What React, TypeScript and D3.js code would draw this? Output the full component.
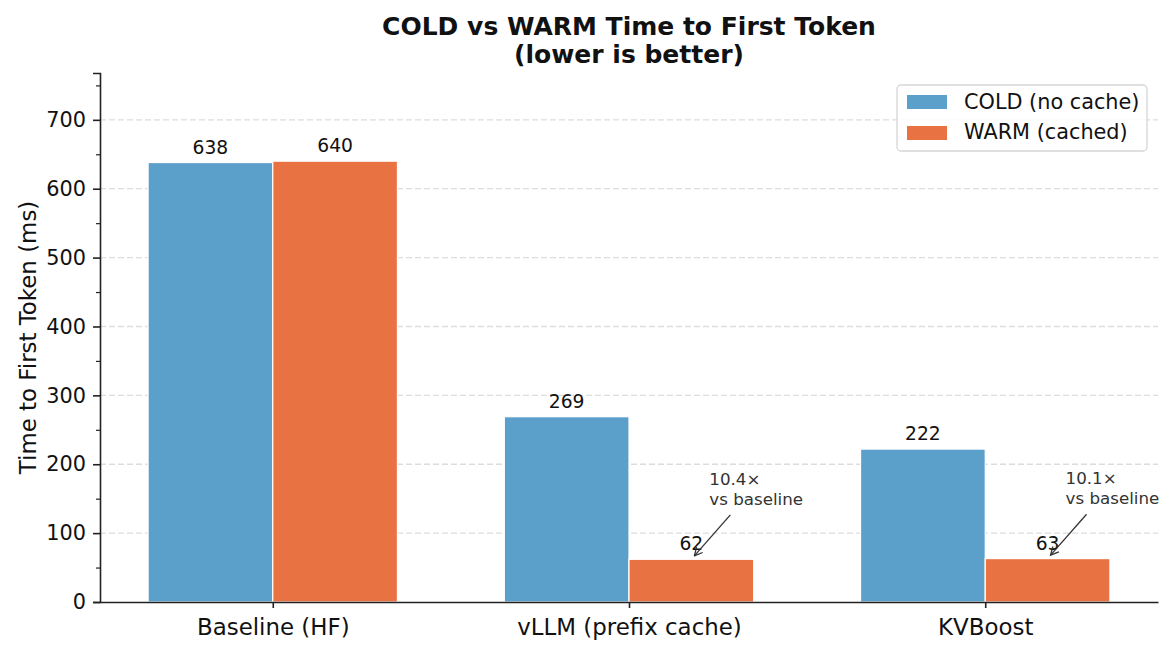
import React, { useEffect, useRef } from "react";
import * as d3 from "d3";

const categories = ["Baseline (HF)", "vLLM (prefix cache)", "KVBoost"];
const coldValues = [638, 269, 222];
const warmValues = [640, 62, 63];
const seriesNames = ["COLD (no cache)", "WARM (cached)"];
const speedupLabels = [null, "10.4×", "10.1×"];
const yTicks = [0, 100, 200, 300, 400, 500, 600, 700];

const COLD = "#5b9fcb";
const WARM = "#e97243";

const App: React.FC = () => {
  const svgRef = useRef<SVGSVGElement>(null);

  useEffect(() => {
    const width = 1174;
    const height = 655;
    const margin = { top: 73, right: 16, bottom: 53, left: 100 };
    const svg = d3.select(svgRef.current);
    svg.html("");
    const font = "DejaVu Sans, sans-serif";

    const w = width - margin.left - margin.right;
    const h = height - margin.top - margin.bottom;
    const barW = 0.35;

    // matplotlib-like limits: bars span -0.35..2.35 plus 5% margin
    const x = d3.scaleLinear().domain([-0.485, 2.485]).range([0, w]);
    const yMax = d3.max([...coldValues, ...warmValues])! * 1.2;
    const y = d3.scaleLinear().domain([0, yMax]).range([h, 0]);

    const g = svg
      .append("g")
      .attr("transform", `translate(${margin.left},${margin.top})`);

    // grid
    g.selectAll("line.grid")
      .data(yTicks.filter((t) => t > 0))
      .join("line")
      .attr("x1", 0)
      .attr("x2", w)
      .attr("y1", (d) => y(d))
      .attr("y2", (d) => y(d))
      .attr("stroke", "#dddddd")
      .attr("stroke-width", 1.3)
      .attr("stroke-dasharray", "6 3");

    // bars
    const series = [
      { values: coldValues, color: COLD, off: -barW / 2 },
      { values: warmValues, color: WARM, off: barW / 2 },
    ];
    series.forEach((s) => {
      g.selectAll(null)
        .data(s.values)
        .join("rect")
        .attr("x", (_, i) => x(i + s.off - barW / 2))
        .attr("width", x(barW) - x(0))
        .attr("y", (d) => y(d))
        .attr("height", (d) => h - y(d))
        .attr("fill", s.color)
        .attr("stroke", "white")
        .attr("stroke-width", 1.2);

      g.selectAll(null)
        .data(s.values)
        .join("text")
        .attr("x", (_, i) => x(i + s.off))
        .attr("y", (d) => y(d) - 9)
        .attr("text-anchor", "middle")
        .attr("font-family", font)
        .attr("font-size", 18.7)
        .attr("fill", "#111")
        .text((d) => d);
    });

    // speedup annotations
    svg
      .append("defs")
      .append("marker")
      .attr("id", "arr")
      .attr("viewBox", "0 0 10 10")
      .attr("refX", 9)
      .attr("refY", 5)
      .attr("markerWidth", 10)
      .attr("markerHeight", 10)
      .attr("markerUnits", "userSpaceOnUse")
      .attr("orient", "auto")
      .append("path")
      .attr("d", "M1,1 L9,5 L1,9")
      .attr("fill", "none")
      .attr("stroke", "#333")
      .attr("stroke-width", 1.3);

    speedupLabels.forEach((lab, i) => {
      if (!lab) return;
      const cx = x(i + barW / 2);
      const tipX = cx + 3;
      const tipY = y(warmValues[i] + 5);
      const tx = cx + 18;
      const ty = y(warmValues[i] + 108);
      g.append("line")
        .attr("x1", tx + 21)
        .attr("y1", ty + 30)
        .attr("x2", tipX)
        .attr("y2", tipY)
        .attr("stroke", "#333")
        .attr("stroke-width", 1.3)
        .attr("marker-end", "url(#arr)");
      const t = g
        .append("text")
        .attr("x", tx)
        .attr("y", ty)
        .attr("font-family", font)
        .attr("font-size", 16.7)
        .attr("fill", "#333");
      t.append("tspan").attr("x", tx).attr("dy", 0).text(lab);
      t.append("tspan").attr("x", tx).attr("dy", 20).text("vs baseline");
    });

    // y axis
    const yAxis = g
      .append("g")
      .call(d3.axisLeft(y).tickValues(yTicks).tickSize(7).tickPadding(7));
    yAxis.select(".domain").attr("stroke", "#222").attr("stroke-width", 1.6);
    yAxis.selectAll(".tick line").attr("stroke", "#222").attr("stroke-width", 1.6);
    yAxis
      .selectAll("text")
      .attr("font-family", font)
      .attr("font-size", 20.8)
      .attr("fill", "#111");
    g.append("g")
      .call(
        d3
          .axisLeft(y)
          .tickValues(d3.range(50, yMax, 100))
          .tickSize(4)
          .tickFormat(() => "")
      )
      .call((a) => a.select(".domain").remove())
      .selectAll(".tick line")
      .attr("stroke", "#222")
      .attr("stroke-width", 1.2);

    // x axis
    const xAxis = g
      .append("g")
      .attr("transform", `translate(0,${h})`)
      .call(
        d3
          .axisBottom(x)
          .tickValues(categories.map((_, i) => i))
          .tickFormat((_, i) => categories[i])
          .tickSize(6)
          .tickPadding(11)
          .tickSizeOuter(0)
      );
    xAxis.select(".domain").attr("stroke", "#222").attr("stroke-width", 1.6);
    xAxis.selectAll(".tick line").attr("stroke", "#222").attr("stroke-width", 1.6);
    xAxis
      .selectAll("text")
      .attr("font-family", font)
      .attr("font-size", 22.9)
      .attr("fill", "#111");

    // y label
    svg
      .append("text")
      .attr("transform", `translate(36,${margin.top + y(yMax / 2)}) rotate(-90)`)
      .attr("text-anchor", "middle")
      .attr("font-family", font)
      .attr("font-size", 22.9)
      .attr("fill", "#111")
      .text("Time to First Token (ms)");

    // title
    const title = svg
      .append("text")
      .attr("text-anchor", "middle")
      .attr("font-family", font)
      .attr("font-size", 25)
      .attr("font-weight", "bold")
      .attr("fill", "#111");
    title.append("tspan").attr("x", margin.left + w / 2).attr("y", 35).text("COLD vs WARM Time to First Token");
    title.append("tspan").attr("x", margin.left + w / 2).attr("y", 63).text("(lower is better)");

    // legend
    const lg = svg.append("g").attr("transform", "translate(897,85)");
    lg.append("rect")
      .attr("width", 250)
      .attr("height", 66)
      .attr("rx", 4)
      .attr("fill", "white")
      .attr("fill-opacity", 0.85)
      .attr("stroke", "#d6d6d6")
      .attr("stroke-width", 1.3);
    [COLD, WARM].forEach((c, i) => {
      lg.append("rect")
        .attr("x", 10)
        .attr("y", 10 + i * 31)
        .attr("width", 40)
        .attr("height", 14)
        .attr("fill", c);
      lg.append("text")
        .attr("x", 67)
        .attr("y", 24 + i * 30)
        .attr("font-family", font)
        .attr("font-size", 20.8)
        .attr("fill", "#111")
        .text(seriesNames[i]);
    });
  }, []);

  return <svg ref={svgRef} width={1174} height={655} style={{ display: "block", margin: -8 }} />;
};

export default App;
